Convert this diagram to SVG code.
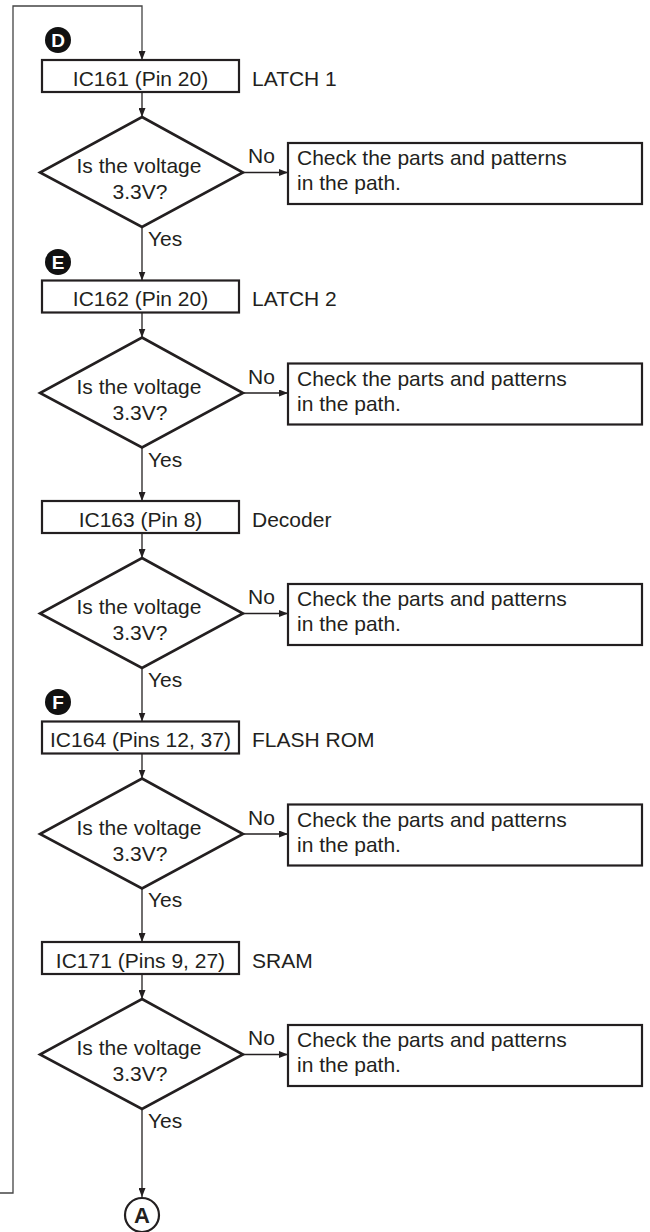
<svg xmlns="http://www.w3.org/2000/svg" width="650" height="1232" viewBox="0 0 650 1232">
<defs>
<marker id="ah" markerWidth="9" markerHeight="7" refX="9" refY="3.5" orient="auto" markerUnits="userSpaceOnUse">
<path d="M0,0 L9,3.5 L0,7 Z" fill="#231f20"/>
</marker>
<style>
text{font-family:"Liberation Sans",Arial,sans-serif;font-size:21px;fill:#231f20}
.box{fill:#fff;stroke:#231f20;stroke-width:2.2}
.dia{fill:#fff;stroke:#231f20;stroke-width:2.6}
.con{fill:none;stroke:#231f20;stroke-width:1.3}
.loop{fill:none;stroke:#444;stroke-width:1.3}
.mid{text-anchor:middle}
.badge{fill:#111}
.bl{font-weight:bold;fill:#fff;font-size:19px;text-anchor:middle}
</style>
</defs>
<rect width="650" height="1232" fill="#fff"/>
<g id="connectors">
<path class="loop" d="M0,1193 H13 V6 H142 V60" marker-end="url(#ah)"/>
<path class="con" d="M142,92 V117" marker-end="url(#ah)"/>
<path class="con" d="M243,172.5 H288" marker-end="url(#ah)"/>
<path class="con" d="M142,227 V280.5" marker-end="url(#ah)"/>
<path class="con" d="M142,312.5 V337.5" marker-end="url(#ah)"/>
<path class="con" d="M243,393 H288" marker-end="url(#ah)"/>
<path class="con" d="M142,447.5 V501" marker-end="url(#ah)"/>
<path class="con" d="M142,533 V558" marker-end="url(#ah)"/>
<path class="con" d="M243,613.5 H288" marker-end="url(#ah)"/>
<path class="con" d="M142,668 V721.5" marker-end="url(#ah)"/>
<path class="con" d="M142,753.5 V778.5" marker-end="url(#ah)"/>
<path class="con" d="M243,834 H288" marker-end="url(#ah)"/>
<path class="con" d="M142,888.5 V942" marker-end="url(#ah)"/>
<path class="con" d="M142,974 V999" marker-end="url(#ah)"/>
<path class="con" d="M243,1054.5 H288" marker-end="url(#ah)"/>
<path class="con" d="M142,1109 V1197" marker-end="url(#ah)"/>
<text x="248" y="163">No</text>
<text x="148" y="246">Yes</text>
<text x="248" y="384">No</text>
<text x="148" y="467">Yes</text>
<text x="248" y="604">No</text>
<text x="148" y="687">Yes</text>
<text x="248" y="825">No</text>
<text x="148" y="907">Yes</text>
<text x="248" y="1045">No</text>
<text x="148" y="1128">Yes</text>
</g>
<g id="badgeD"><circle class="badge" cx="58" cy="40" r="13"/><text class="bl" x="58" y="47">D</text></g>
<g id="badgeE"><circle class="badge" cx="58" cy="262" r="13"/><text class="bl" x="58" y="269">E</text></g>
<g id="badgeF"><circle class="badge" cx="58" cy="702" r="13"/><text class="bl" x="58" y="709">F</text></g>

<g id="ic161"><rect class="box" x="42" y="60" width="197" height="32"/><text class="mid" x="140.5" y="85.5">IC161 (Pin 20)</text><text x="252" y="85.5">LATCH 1</text></g>
<g id="q1"><polygon class="dia" points="142,117 243,172.5 142,227 40,172.5"/><text class="mid" x="139" y="173">Is the voltage</text><text class="mid" x="140" y="199">3.3V?</text></g>
<g id="chk1"><rect class="box" x="288" y="143" width="354" height="61"/><text x="297" y="165">Check the parts and patterns</text><text x="297" y="190">in the path.</text></g>

<g id="ic162"><rect class="box" x="42" y="280.5" width="197" height="32"/><text class="mid" x="140.5" y="306">IC162 (Pin 20)</text><text x="252" y="306">LATCH 2</text></g>
<g id="q2"><polygon class="dia" points="142,337.5 243,393 142,447.5 40,393"/><text class="mid" x="139" y="393.5">Is the voltage</text><text class="mid" x="140" y="419.5">3.3V?</text></g>
<g id="chk2"><rect class="box" x="288" y="363.5" width="354" height="61"/><text x="297" y="385.5">Check the parts and patterns</text><text x="297" y="410.5">in the path.</text></g>

<g id="ic163"><rect class="box" x="42" y="501" width="197" height="32"/><text class="mid" x="140.5" y="526.5">IC163 (Pin 8)</text><text x="252" y="526.5">Decoder</text></g>
<g id="q3"><polygon class="dia" points="142,558 243,613.5 142,668 40,613.5"/><text class="mid" x="139" y="614">Is the voltage</text><text class="mid" x="140" y="640">3.3V?</text></g>
<g id="chk3"><rect class="box" x="288" y="584" width="354" height="61"/><text x="297" y="606">Check the parts and patterns</text><text x="297" y="631">in the path.</text></g>

<g id="ic164"><rect class="box" x="42" y="721.5" width="197" height="32"/><text class="mid" x="140.5" y="747">IC164 (Pins 12, 37)</text><text x="252" y="747">FLASH ROM</text></g>
<g id="q4"><polygon class="dia" points="142,778.5 243,834 142,888.5 40,834"/><text class="mid" x="139" y="834.5">Is the voltage</text><text class="mid" x="140" y="860.5">3.3V?</text></g>
<g id="chk4"><rect class="box" x="288" y="804.5" width="354" height="61"/><text x="297" y="826.5">Check the parts and patterns</text><text x="297" y="851.5">in the path.</text></g>

<g id="ic171"><rect class="box" x="42" y="942" width="197" height="32"/><text class="mid" x="140.5" y="967.5">IC171 (Pins 9, 27)</text><text x="252" y="967.5">SRAM</text></g>
<g id="q5"><polygon class="dia" points="142,999 243,1054.5 142,1109 40,1054.5"/><text class="mid" x="139" y="1055">Is the voltage</text><text class="mid" x="140" y="1081">3.3V?</text></g>
<g id="chk5"><rect class="box" x="288" y="1025" width="354" height="61"/><text x="297" y="1047">Check the parts and patterns</text><text x="297" y="1072">in the path.</text></g>

<g id="connA"><circle cx="142" cy="1215" r="17" fill="#fff" stroke="#231f20" stroke-width="2.2"/><text class="mid" x="142" y="1223" style="font-weight:bold;font-size:22px">A</text></g>
</svg>
